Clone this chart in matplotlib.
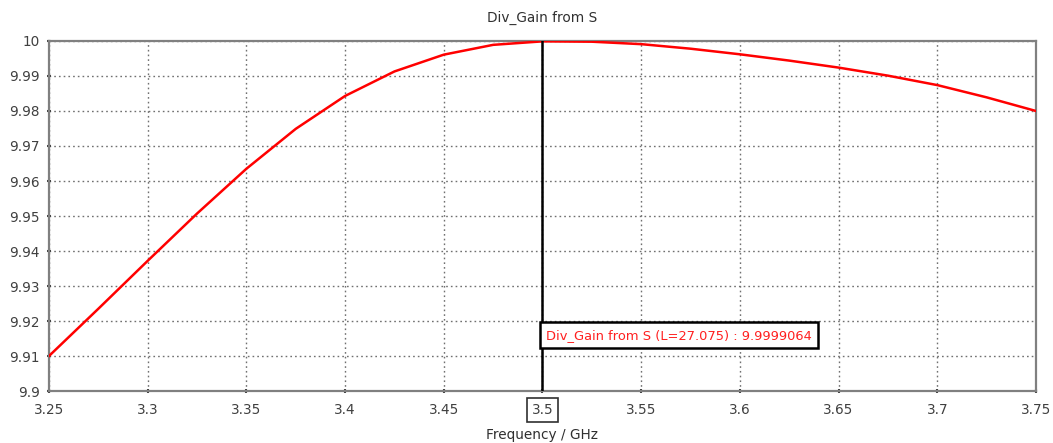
import numpy as np
import matplotlib
matplotlib.use('Agg')
from matplotlib import pyplot as plt

# values (every 0.025 GHz)
freq = [3.25, 3.275, 3.30, 3.325, 3.35, 3.375, 3.40, 3.425, 3.45, 3.475,
        3.50, 3.525, 3.55, 3.575, 3.60, 3.625, 3.65, 3.675, 3.70, 3.725, 3.75]
gain = [9.9100, 9.9235, 9.9372, 9.9507, 9.9635, 9.9749, 9.9843, 9.9913, 9.9961, 9.9989,
        9.9999, 9.9998, 9.9991, 9.9978, 9.9962, 9.9944, 9.9924, 9.9901, 9.9874, 9.9839, 9.9800]
xticks = [3.25, 3.3, 3.35, 3.4, 3.45, 3.5, 3.55, 3.6, 3.65, 3.7, 3.75]
yticks = [9.9, 9.91, 9.92, 9.93, 9.94, 9.95, 9.96, 9.97, 9.98, 9.99, 10]
marker_x = 3.5
marker_label = 'Div_Gain from S (L=27.075) : 9.9999064'

fig = plt.figure(figsize=(10.53, 4.43), dpi=100)
ax = fig.add_axes([0.04653, 0.11738, 0.93732, 0.79007])

ax.plot(freq, gain, color='#ff0000', lw=1.8, zorder=3, solid_joinstyle='round')
ax.axvline(marker_x, color='black', lw=1.8, zorder=4)

ax.set_xlim(3.25, 3.75)
ax.set_ylim(9.9, 10)
ax.set_xticks(xticks)
ax.set_xticklabels(['%g' % v for v in xticks])
ax.set_yticks(yticks)
ax.set_yticklabels(['%g' % v for v in yticks])
ax.grid(True, color='#707070', ls=(0, (1.2, 2.2)), lw=1.0)
for s in ax.spines.values():
    s.set_color('#808080')
    s.set_linewidth(1.6)
ax.tick_params(colors='#404040', labelsize=9.8, length=3, width=1.5, direction='inout')
ax.tick_params(axis='x', pad=7)
ax.tick_params(axis='y', pad=5)
for lab in ax.get_xticklabels():
    if lab.get_text() == '3.5':
        lab.set_bbox(dict(facecolor='white', edgecolor='#303030', lw=1.2, pad=3.5))

ax.set_title('Div_Gain from S', fontsize=9.8, color='#303030', pad=14)
ax.set_xlabel('Frequency / GHz', fontsize=9.8, color='#303030', labelpad=8)

ax.text(marker_x + 0.0018, 9.9159, marker_label, color='#ff2020', fontsize=9.4,
        ha='left', va='center', zorder=5,
        bbox=dict(facecolor='white', edgecolor='black', lw=1.8, boxstyle='square,pad=0.5'))

fig.savefig('out.png', dpi=100)
